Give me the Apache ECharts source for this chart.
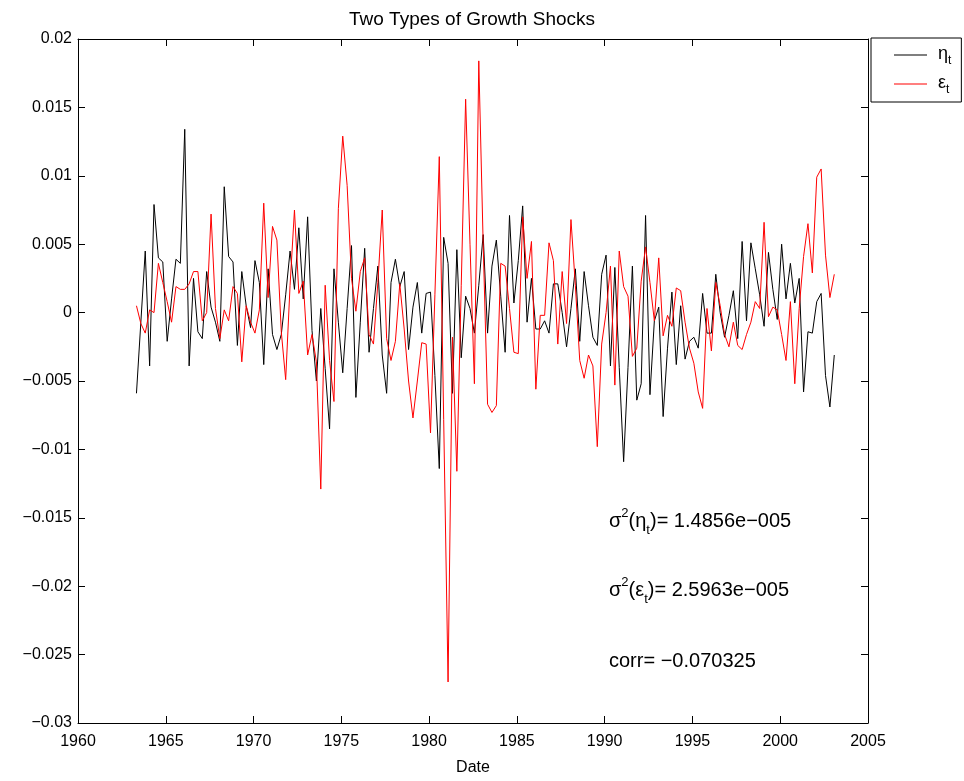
<!DOCTYPE html>
<html>
<head>
<meta charset="utf-8">
<script src="https://cdn.jsdelivr.net/npm/echarts@6/dist/echarts.min.js"></script>
<style>
  html, body { margin: 0; padding: 0; background: #fff; }
  #main { width: 964px; height: 781px; }
</style>
</head>
<body>
<div id="main"></div>
<script>
// quarterly shocks
var firstDate = 1963.33;   // first quarter plotted
var step = 0.25;

var eta = [
  -0.0059, -0.0007, 0.0045, -0.0039, 0.0079, 0.0040, 0.0037, -0.0021, 0.0010, 0.0039,
  0.0036, 0.0134, -0.0039, 0.0025, -0.0014, -0.0019, 0.0030, 0.0004, -0.0007, -0.0021,
  0.0092, 0.0041, 0.0037, -0.0024, 0.0030, 0.0005, -0.0011, 0.0038, 0.0022, -0.0038,
  0.0032, -0.0016, -0.0027, -0.0016, 0.0013, 0.0045, 0.0017, 0.0062, 0.0010, 0.0070,
  -0.0013, -0.0050, 0.0003, -0.0041, -0.0085, 0.0032, -0.0007, -0.0044, 0.0003, 0.0049,
  -0.0062, -0.0007, 0.0047, -0.0029, 0.0003, 0.0034, -0.0031, -0.0059, 0.0022, 0.0039,
  0.0019, 0.0030, -0.0027, 0.0004, 0.0022, -0.0015, 0.0014, 0.0015, -0.0046, -0.0114,
  0.0055, 0.0036, -0.0059, 0.0046, -0.0033, 0.0012, 0.0003, -0.0015, 0.0020, 0.0057,
  -0.0015, 0.0034, 0.0053, 0.0012, -0.0029, 0.0071, 0.0007, 0.0038, 0.0078, -0.0007,
  0.0025, -0.0012, -0.0012, -0.0006, -0.0015, 0.0021, 0.0021, 0.0000, -0.0025, 0.0003,
  0.0032, -0.0021, 0.0030, 0.0005, -0.0018, -0.0024, 0.0028, 0.0042, -0.0039, 0.0033,
  -0.0040, -0.0109, -0.0040, 0.0034, -0.0064, -0.0052, 0.0071, -0.0060, -0.0006, 0.0004,
  -0.0076, -0.0026, 0.0015, -0.0038, 0.0005, -0.0034, -0.0021, -0.0018, -0.0026, 0.0014,
  -0.0015, -0.0015, 0.0028, 0.0000, -0.0018, -0.0002, 0.0016, -0.0019, 0.0052, -0.0006,
  0.0051, 0.0032, 0.0013, -0.0010, 0.0044, 0.0017, -0.0005, 0.0050, 0.0010, 0.0036,
  0.0007, 0.0025, -0.0058, -0.0014, -0.0015, 0.0008, 0.0014, -0.0046, -0.0069, -0.0031
];

var eps = [
  0.0005, -0.0008, -0.0015, 0.0002, 0.0000, 0.0036, 0.0022, 0.0008, -0.0007, 0.0019,
  0.0017, 0.0017, 0.0021, 0.0030, 0.0030, -0.0006, 0.0000, 0.0072, 0.0003, -0.0019,
  0.0002, -0.0006, 0.0019, 0.0014, -0.0036, 0.0005, -0.0007, -0.0015, 0.0002, 0.0080,
  0.0011, 0.0063, 0.0053, -0.0014, -0.0049, 0.0020, 0.0075, 0.0014, 0.0023, -0.0031,
  -0.0016, -0.0036, -0.0129, 0.0020, -0.0035, -0.0065, 0.0076, 0.0129, 0.0093, 0.0025,
  0.0001, 0.0030, 0.0040, -0.0016, -0.0023, 0.0022, 0.0075, -0.0019, -0.0035, -0.0021,
  0.0021, -0.0012, -0.0050, -0.0077, -0.0050, -0.0022, -0.0023, -0.0088, 0.0013, 0.0114,
  -0.0078, -0.0270, -0.0018, -0.0116, 0.0020, 0.0156, 0.0050, -0.0052, 0.0184, 0.0050,
  -0.0067, -0.0073, -0.0068, 0.0036, 0.0034, 0.0003, -0.0029, -0.0030, 0.0070, 0.0025,
  0.0052, -0.0056, -0.0002, -0.0002, 0.0051, 0.0038, -0.0023, 0.0030, -0.0008, 0.0068,
  0.0020, -0.0035, -0.0048, -0.0031, -0.0039, -0.0098, -0.0023, 0.0000, 0.0034, -0.0053,
  0.0045, 0.0019, 0.0012, -0.0032, -0.0026, 0.0023, 0.0048, 0.0022, -0.0006, 0.0040,
  -0.0017, -0.0002, -0.0010, 0.0018, 0.0016, -0.0007, -0.0026, -0.0037, -0.0058, -0.0070,
  0.0003, -0.0028, 0.0022, 0.0005, -0.0016, -0.0025, -0.0007, -0.0024, -0.0027, -0.0016,
  -0.0007, 0.0008, 0.0003, 0.0066, -0.0003, 0.0004, 0.0002, -0.0016, -0.0035, 0.0008,
  -0.0052, 0.0003, 0.0041, 0.0065, 0.0029, 0.0099, 0.0105, 0.0042, 0.0011, 0.0028
];

var statLines = [
  {sym: 'η', val: '1.4856e−005'},
  {sym: 'ε', val: '2.5963e−005'}
];
var corrText = 'corr= −0.070325';

var FONT = '"Liberation Sans", Arial, Helvetica, sans-serif';

function pairs(vals) {
  var out = [];
  for (var i = 0; i < vals.length; i++) {
    out.push([firstDate + i * step, vals[i]]);
  }
  return out;
}

function yFmt(v) {
  var s = String(parseFloat(v.toFixed(4)));
  return s.replace('-', '\u2212');
}

var myChart = echarts.init(document.getElementById('main'));

var tickStyle = { inside: true, length: 7, lineStyle: { color: '#000', width: 1 } };
var axLine = { onZero: false, lineStyle: { color: '#000', width: 1 } };

var richMain = {
  m: { fontSize: 20, fontFamily: FONT, color: '#000', verticalAlign: 'bottom', padding: [0, 0, 6, 0], lineHeight: 32 },
  p: { fontSize: 13, fontFamily: FONT, color: '#000', verticalAlign: 'bottom', padding: [0, 0, 17, 0], lineHeight: 32 },
  b: { fontSize: 13, fontFamily: FONT, color: '#000', verticalAlign: 'bottom', padding: [0, 0, 0, 0], lineHeight: 32 }
};

var graphics = [];
statLines.forEach(function (s, k) {
  graphics.push({
    type: 'text',
    left: 609,
    top: 507 + k * 69,
    style: {
      text: '{m|σ}{p|2}{m|(' + s.sym + '}{b|t}{m|)= ' + s.val + '}',
      rich: richMain
    }
  });
});
graphics.push({
  type: 'text',
  left: 609,
  top: 651,
  style: { text: corrText, font: '20px ' + FONT, fill: '#000' }
});

var option = {
  backgroundColor: '#fff',
  animation: false,
  title: {
    text: 'Two Types of Growth Shocks',
    left: 467,
    top: 5,
    textAlign: 'center',
    textStyle: { fontSize: 19, fontWeight: 'normal', color: '#000', fontFamily: FONT }
  },
  legend: {
    orient: 'vertical',
    left: 871,
    top: 38,
    padding: [7, 10, 6, 23],
    itemGap: 7,
    itemWidth: 33,
    itemHeight: 1,
    icon: 'rect',
    borderColor: '#000',
    borderWidth: 1,
    borderRadius: 0,
    data: ['eta', 'eps'],
    formatter: function (name) {
      return name === 'eta' ? '{g|η}{s|t}' : '{g|ε}{s|t}';
    },
    textStyle: {
      rich: {
        g: { fontSize: 18, fontFamily: FONT, color: '#000', verticalAlign: 'bottom', padding: [0, 0, 4, 6], lineHeight: 24 },
        s: { fontSize: 12, fontFamily: FONT, color: '#000', verticalAlign: 'bottom', lineHeight: 24 }
      }
    }
  },
  grid: { left: 78, top: 39, width: 790, height: 688, containLabel: false },
  xAxis: [{
    type: 'value',
    min: 1960,
    max: 2005,
    interval: 5,
    name: 'Date',
    nameLocation: 'middle',
    nameGap: 37,
    nameTextStyle: { fontSize: 16, color: '#000', fontFamily: FONT },
    axisLine: axLine,
    axisTick: tickStyle,
    axisLabel: { fontSize: 16, color: '#000', fontFamily: FONT, margin: 11, formatter: function (v) { return String(v); } },
    splitLine: { show: false }
  }, {
    type: 'value',
    position: 'top',
    min: 1960,
    max: 2005,
    interval: 5,
    axisLine: axLine,
    axisTick: tickStyle,
    axisLabel: { show: false },
    splitLine: { show: false }
  }],
  yAxis: [{
    type: 'value',
    min: -0.03,
    max: 0.02,
    interval: 0.005,
    axisLine: axLine,
    axisTick: tickStyle,
    axisLabel: { fontSize: 16, color: '#000', fontFamily: FONT, margin: 6, formatter: yFmt },
    splitLine: { show: false }
  }, {
    type: 'value',
    position: 'right',
    min: -0.03,
    max: 0.02,
    interval: 0.005,
    axisLine: axLine,
    axisTick: tickStyle,
    axisLabel: { show: false },
    splitLine: { show: false }
  }],
  series: [{
    name: 'eta',
    type: 'line',
    data: pairs(eta),
    symbol: 'none',
    lineStyle: { color: '#000', width: 1 },
    itemStyle: { color: '#000' }
  }, {
    name: 'eps',
    type: 'line',
    data: pairs(eps),
    symbol: 'none',
    lineStyle: { color: '#ff0000', width: 1 },
    itemStyle: { color: '#ff0000' }
  }],
  graphic: graphics
};

myChart.setOption(option);
</script>
</body>
</html>
